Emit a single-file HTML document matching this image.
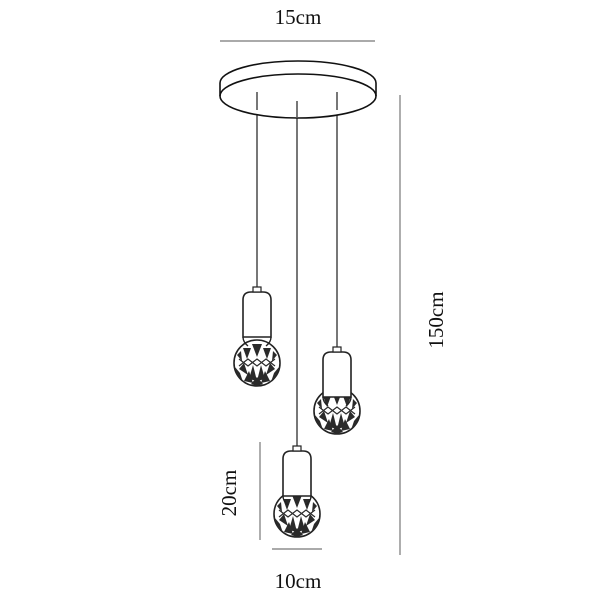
<!DOCTYPE html>
<html><head><style>
html,body{margin:0;padding:0;background:#fff;}
svg{display:block;}
text{font-family:"Liberation Serif",serif;fill:#111;}
</style></head><body>
<svg width="600" height="600" viewBox="0 0 600 600">
<defs>
<g id="bulb">
  <circle cx="0" cy="0" r="23" fill="#fff" stroke="#222" stroke-width="1.6"/>
  <g fill="#2a2a2a">
    <!-- top leaves pointing down -->
    <path d="M-14,-15 L-10,-4 L-6,-15 Z"/>
    <path d="M-5,-19 L0,-6 L5,-19 Z"/>
    <path d="M6,-15 L10,-4 L14,-15 Z"/>
    <path d="M-20,-8 L-15,-2 L-16,-12 Z"/>
    <path d="M20,-8 L15,-2 L16,-12 Z"/>
    <!-- bottom leaves pointing up -->
    <path d="M-18,6 L-13,0 L-9,12 Z"/>
    <path d="M-8,16 L-4,2 L0,18 Z"/>
    <path d="M0,18 L4,2 L8,16 Z"/>
    <path d="M18,6 L13,0 L9,12 Z"/>
    <path d="M-13,18 L-8,8 L-4,20 Z"/>
    <path d="M13,18 L8,8 L4,20 Z"/>
    <path d="M-22,4 L-17,10 L-14,19 L-20,12 Z"/>
    <path d="M22,4 L17,10 L14,19 L20,12 Z"/>
    <path d="M-6,21 L0,14 L6,21 L0,23 Z"/>
  </g>
  <g stroke="#2a2a2a" stroke-width="1.2" fill="none">
    <path d="M-18,-4 L-9,3 L0,-4 L9,3 L18,-4"/>
    <path d="M-18,3 L-9,-4 L0,3 L9,-4 L18,3"/>
  </g>
</g>
<g id="socket">
  <path d="M-14,45 L-14,8 Q-14,0 -6,0 L6,0 Q14,0 14,8 L14,45 Z" fill="#fff" stroke="#222" stroke-width="1.6"/>
  <rect x="-4" y="-5" width="8" height="5" fill="#fff" stroke="#222" stroke-width="1.2"/>
  <path d="M-14,45 Q-14,50 -9,54 M14,45 Q14,50 9,54" fill="none" stroke="#222" stroke-width="1.4"/>
</g>
</defs>

<!-- dimension lines -->
<g stroke="#777" stroke-width="1.2">
  <line x1="220" y1="41" x2="375" y2="41"/>
  <line x1="400" y1="95" x2="400" y2="555"/>
  <line x1="260" y1="442" x2="260" y2="540"/>
  <line x1="272" y1="549" x2="322" y2="549"/>
</g>
<text x="298" y="24" font-size="21" text-anchor="middle">15cm</text>
<text x="298" y="588" font-size="21" text-anchor="middle">10cm</text>
<text transform="translate(443,320) rotate(-90)" font-size="21" text-anchor="middle">150cm</text>
<text transform="translate(236,493) rotate(-90)" font-size="21" text-anchor="middle">20cm</text>

<!-- cords -->
<g stroke="#555" stroke-width="1.6">
  <line x1="257" y1="90" x2="257" y2="288"/>
  <line x1="297" y1="100" x2="297" y2="448"/>
  <line x1="337" y1="90" x2="337" y2="352"/>
</g>

<!-- canopy -->
<path d="M220,83 A78,22 0 0 1 376,83 L376,96 A78,22 0 0 1 220,96 Z" fill="#fff" stroke="#111" stroke-width="1.6"/>
<path d="M220,96 A78,22 0 0 1 376,96" fill="none" stroke="#111" stroke-width="1.6"/>
<g stroke="#555" stroke-width="1.6">
  <line x1="257" y1="92" x2="257" y2="110"/>
  <line x1="297" y1="101" x2="297" y2="118"/>
  <line x1="337" y1="92" x2="337" y2="110"/>
</g>

<!-- lamps -->
<use href="#bulb" x="257" y="363"/>
<use href="#socket" x="257" y="292"/>
<use href="#bulb" x="337" y="411"/>
<use href="#socket" x="337" y="352"/>
<use href="#bulb" x="297" y="514"/>
<use href="#socket" x="297" y="451"/>
</svg>
</body></html>
